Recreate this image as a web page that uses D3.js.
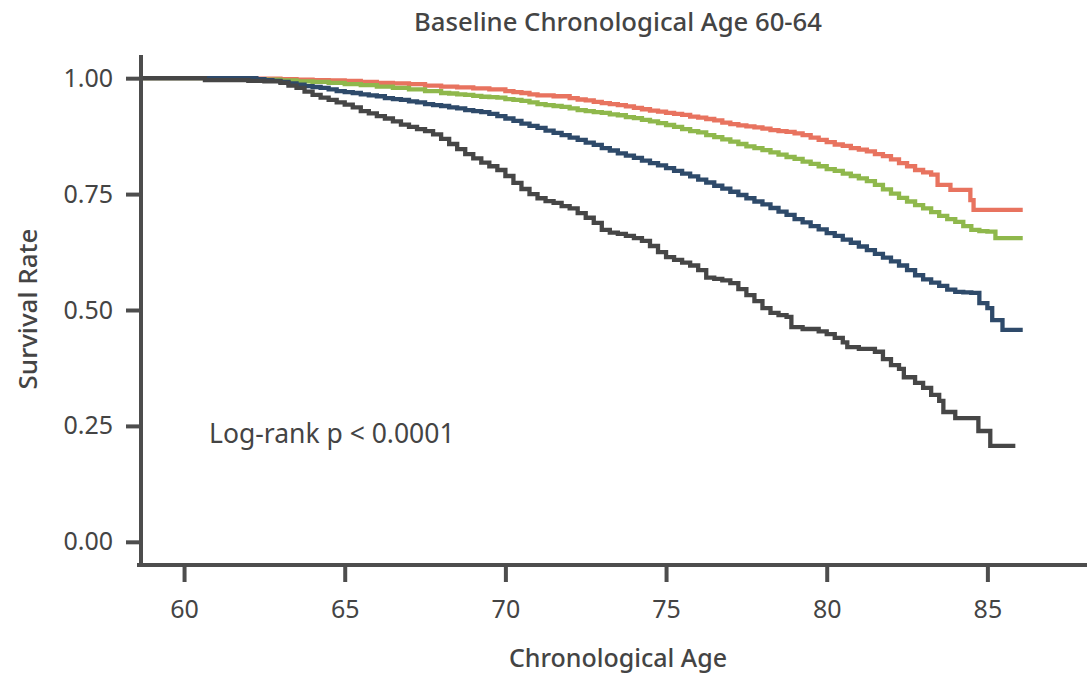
<!DOCTYPE html>
<html>
<head>
<meta charset="utf-8">
<script src="https://cdn.jsdelivr.net/npm/d3@7"></script>
<style>
  html, body { margin: 0; padding: 0; background: #fff; }
  svg { display: block; }
  text { font-family: "Noto Sans", "Open Sans", sans-serif; fill: #444; }
</style>
</head>
<body>
<svg id="chart" width="1087" height="674"></svg>
<script>
// ---- Data ----
const title = "Baseline Chronological Age 60-64";
const xLabel = "Chronological Age";
const yLabel = "Survival Rate";
const annotation = "Log-rank p < 0.0001";
const xTicks = [60, 65, 70, 75, 80, 85];
const yTicks = [0, 0.25, 0.5, 0.75, 1.0];

const redAge  = [58.7, 61.5, 62.5, 63, 63.5, 64, 64.5, 65, 65.5, 66, 66.5, 67, 67.5, 68, 68.5, 69, 69.5, 70, 70.25, 70.5, 70.75, 71, 71.5, 72, 72.25, 72.5, 72.75, 73, 73.25, 73.5, 73.75, 74, 74.25, 74.5, 74.75, 75, 75.25, 75.5, 75.75, 76, 76.25, 76.5, 76.75, 77, 77.25, 77.5, 77.75, 78, 78.25, 78.5, 78.75, 79, 79.25, 79.5, 79.75, 80, 80.25, 80.5, 80.75, 81, 81.25, 81.5, 81.75, 82, 82.25, 82.5, 82.75, 83, 83.25, 83.45, 83.85, 84.47, 84.57, 86.1];
const redSurv = [1.000, 0.999, 0.999, 0.998, 0.997, 0.996, 0.995, 0.994, 0.992, 0.990, 0.989, 0.987, 0.984, 0.982, 0.980, 0.978, 0.976, 0.972, 0.970, 0.968, 0.965, 0.963, 0.961, 0.957, 0.954, 0.952, 0.949, 0.946, 0.944, 0.942, 0.939, 0.936, 0.933, 0.930, 0.928, 0.925, 0.923, 0.921, 0.917, 0.915, 0.912, 0.909, 0.904, 0.901, 0.898, 0.896, 0.894, 0.891, 0.888, 0.886, 0.884, 0.881, 0.877, 0.872, 0.867, 0.862, 0.857, 0.854, 0.849, 0.846, 0.842, 0.836, 0.832, 0.825, 0.817, 0.810, 0.802, 0.797, 0.792, 0.770, 0.759, 0.737, 0.716, 0.716];

const greenAge  = [58.7, 61.25, 61.5, 62, 62.5, 63, 63.5, 64, 64.5, 65, 65.5, 66, 66.5, 67, 67.5, 68, 68.25, 68.5, 68.75, 69, 69.25, 69.5, 69.75, 70, 70.25, 70.5, 70.75, 71, 71.25, 71.5, 71.75, 72, 72.25, 72.5, 72.75, 73, 73.25, 73.5, 73.75, 74, 74.25, 74.5, 74.75, 75, 75.25, 75.5, 75.75, 76, 76.25, 76.5, 76.75, 77, 77.25, 77.5, 77.75, 78, 78.25, 78.5, 78.75, 79, 79.25, 79.5, 79.75, 80, 80.25, 80.5, 80.75, 81, 81.25, 81.5, 81.75, 82, 82.25, 82.5, 82.75, 83, 83.25, 83.5, 83.75, 84, 84.25, 84.5, 84.75, 85, 85.25, 86.1];
const greenSurv = [1.000, 1.000, 0.999, 0.998, 0.997, 0.995, 0.993, 0.992, 0.990, 0.987, 0.985, 0.982, 0.979, 0.976, 0.972, 0.968, 0.967, 0.965, 0.964, 0.962, 0.960, 0.959, 0.958, 0.955, 0.953, 0.951, 0.948, 0.944, 0.942, 0.940, 0.938, 0.935, 0.931, 0.929, 0.927, 0.925, 0.922, 0.920, 0.916, 0.914, 0.910, 0.907, 0.903, 0.899, 0.895, 0.890, 0.886, 0.883, 0.877, 0.873, 0.868, 0.863, 0.858, 0.853, 0.849, 0.845, 0.840, 0.835, 0.830, 0.826, 0.820, 0.815, 0.810, 0.804, 0.800, 0.794, 0.789, 0.784, 0.778, 0.770, 0.760, 0.751, 0.742, 0.734, 0.726, 0.719, 0.711, 0.703, 0.696, 0.690, 0.681, 0.673, 0.670, 0.669, 0.655, 0.655];

const blueAge  = [58.7, 62, 62.25, 62.5, 62.75, 63, 63.25, 63.5, 63.75, 64, 64.25, 64.5, 64.75, 65, 65.25, 65.5, 65.75, 66, 66.25, 66.5, 66.75, 67, 67.25, 67.5, 67.75, 68, 68.25, 68.5, 68.75, 69, 69.25, 69.5, 69.75, 70, 70.25, 70.5, 70.75, 71, 71.25, 71.5, 71.75, 72, 72.25, 72.5, 72.75, 73, 73.25, 73.5, 73.75, 74, 74.25, 74.5, 74.75, 75, 75.25, 75.5, 75.75, 76, 76.25, 76.5, 76.75, 77, 77.25, 77.5, 77.75, 78, 78.25, 78.5, 78.75, 79, 79.25, 79.5, 79.75, 80, 80.25, 80.5, 80.75, 81, 81.25, 81.5, 81.75, 82, 82.25, 82.5, 82.75, 83, 83.25, 83.5, 83.75, 84, 84.25, 84.5, 84.75, 85, 85.15, 85.47, 86.1];
const blueSurv = [1.000, 1.000, 0.998, 0.996, 0.994, 0.992, 0.989, 0.986, 0.983, 0.981, 0.979, 0.976, 0.972, 0.970, 0.968, 0.965, 0.963, 0.961, 0.957, 0.955, 0.953, 0.950, 0.948, 0.944, 0.942, 0.940, 0.937, 0.935, 0.931, 0.929, 0.927, 0.923, 0.918, 0.913, 0.908, 0.902, 0.897, 0.893, 0.887, 0.882, 0.877, 0.872, 0.867, 0.861, 0.856, 0.849, 0.844, 0.838, 0.833, 0.828, 0.822, 0.817, 0.812, 0.806, 0.800, 0.794, 0.788, 0.781, 0.775, 0.768, 0.762, 0.755, 0.748, 0.741, 0.734, 0.728, 0.720, 0.712, 0.705, 0.696, 0.689, 0.681, 0.674, 0.666, 0.660, 0.652, 0.645, 0.637, 0.629, 0.621, 0.613, 0.605, 0.596, 0.586, 0.575, 0.566, 0.559, 0.552, 0.544, 0.539, 0.538, 0.537, 0.515, 0.504, 0.478, 0.457, 0.457];

const grayAge  = [58.7, 60.65, 62, 62.5, 63, 63.25, 63.5, 63.75, 64, 64.25, 64.5, 64.75, 65, 65.25, 65.5, 65.75, 66, 66.25, 66.5, 66.75, 67, 67.25, 67.5, 67.75, 68, 68.25, 68.5, 68.75, 69, 69.25, 69.5, 69.75, 70, 70.25, 70.5, 70.75, 71, 71.25, 71.5, 71.75, 72, 72.25, 72.5, 72.75, 73, 73.25, 73.5, 73.75, 74, 74.25, 74.5, 74.75, 75, 75.25, 75.5, 75.75, 76, 76.25, 76.5, 76.75, 77, 77.25, 77.5, 77.75, 78, 78.25, 78.5, 78.75, 78.9, 79.25, 79.75, 80, 80.25, 80.5, 80.64, 81, 81.5, 81.75, 82, 82.25, 82.4, 82.75, 83, 83.25, 83.5, 83.63, 84, 84.72, 85.09, 85.87];
const graySurv = [1.000, 0.996, 0.994, 0.993, 0.990, 0.984, 0.979, 0.971, 0.964, 0.958, 0.953, 0.948, 0.943, 0.937, 0.929, 0.924, 0.918, 0.913, 0.907, 0.900, 0.895, 0.890, 0.886, 0.879, 0.869, 0.858, 0.847, 0.836, 0.827, 0.818, 0.810, 0.802, 0.789, 0.774, 0.761, 0.750, 0.741, 0.735, 0.731, 0.724, 0.719, 0.709, 0.699, 0.688, 0.673, 0.667, 0.664, 0.660, 0.655, 0.649, 0.638, 0.625, 0.614, 0.608, 0.602, 0.596, 0.586, 0.570, 0.567, 0.564, 0.558, 0.545, 0.532, 0.519, 0.504, 0.494, 0.489, 0.485, 0.463, 0.459, 0.454, 0.448, 0.440, 0.430, 0.420, 0.416, 0.410, 0.394, 0.381, 0.373, 0.355, 0.343, 0.332, 0.317, 0.304, 0.280, 0.267, 0.239, 0.207, 0.207];

const seriesNames  = ["red", "green", "blue", "gray"];
const seriesColors = ["#e8735f", "#8fb84c", "#2e4a6a", "#464646"];

// ---- Build ----
const series = [
  {name: "red",   age: redAge,   surv: redSurv},
  {name: "green", age: greenAge, surv: greenSurv},
  {name: "blue",  age: blueAge,  surv: blueSurv},
  {name: "gray",  age: grayAge,  surv: graySurv}
];
const color = d3.scaleOrdinal().domain(seriesNames).range(seriesColors);

const svg = d3.select("#chart");
const x = d3.scaleLinear().domain([58.66, 88.1]).range([141, 1087]);
const y = d3.scaleLinear().domain([-0.05, 1.05]).range([565, 55]);

const axisColor = "#4d4d4d";

// curves
const line = d3.line()
  .x(d => x(d[0]))
  .y(d => y(d[1]))
  .curve(d3.curveStepAfter);

svg.append("g")
  .selectAll("path")
  .data(series)
  .join("path")
  .attr("d", s => line(s.age.map((a, i) => [a, s.surv[i]])))
  .attr("fill", "none")
  .attr("stroke", s => color(s.name))
  .attr("stroke-width", 4.3)
  .attr("stroke-linejoin", "miter");

// x axis
const gx = svg.append("g")
  .attr("transform", "translate(0,565)")
  .call(d3.axisBottom(x).tickValues(xTicks).tickSize(17).tickSizeOuter(0).tickPadding(18).tickFormat(d3.format("d")));
gx.select(".domain").attr("stroke", axisColor).attr("stroke-width", 4)
  .attr("d", `M${x.range()[0] - 4},0H${x.range()[1]}`);
gx.selectAll(".tick line").attr("stroke", axisColor).attr("stroke-width", 4);
gx.selectAll(".tick text").attr("fill", "#4a4a4a").style("font-size", "25px")
  .style("font-family", "'Noto Sans', sans-serif");

// y axis
const gy = svg.append("g")
  .attr("transform", "translate(141,0)")
  .call(d3.axisLeft(y).tickValues(yTicks).tickSize(15).tickSizeOuter(0).tickPadding(13).tickFormat(d3.format(".2f")));
gy.select(".domain").attr("stroke", axisColor).attr("stroke-width", 4)
  .attr("d", `M0,${y.range()[1]}V${y.range()[0] + 2}`);
gy.selectAll(".tick line").attr("stroke", axisColor).attr("stroke-width", 4);
gy.selectAll(".tick text").attr("fill", "#4a4a4a").style("font-size", "25px")
  .style("font-family", "'Noto Sans', sans-serif");

// titles
svg.append("text")
  .attr("x", 618).attr("y", 31)
  .attr("text-anchor", "middle")
  .style("font-size", "25.7px").style("font-weight", "500")
  .text(title);

svg.append("text")
  .attr("x", 618).attr("y", 667)
  .attr("text-anchor", "middle")
  .style("font-size", "25px").style("font-weight", "500")
  .text(xLabel);

svg.append("text")
  .attr("transform", "translate(37,309) rotate(-90)")
  .attr("text-anchor", "middle")
  .style("font-size", "26px").style("font-weight", "500")
  .text(yLabel);

svg.append("text")
  .attr("x", 209).attr("y", 443)
  .style("font-size", "26.5px")
  .text(annotation);
</script>
</body>
</html>
